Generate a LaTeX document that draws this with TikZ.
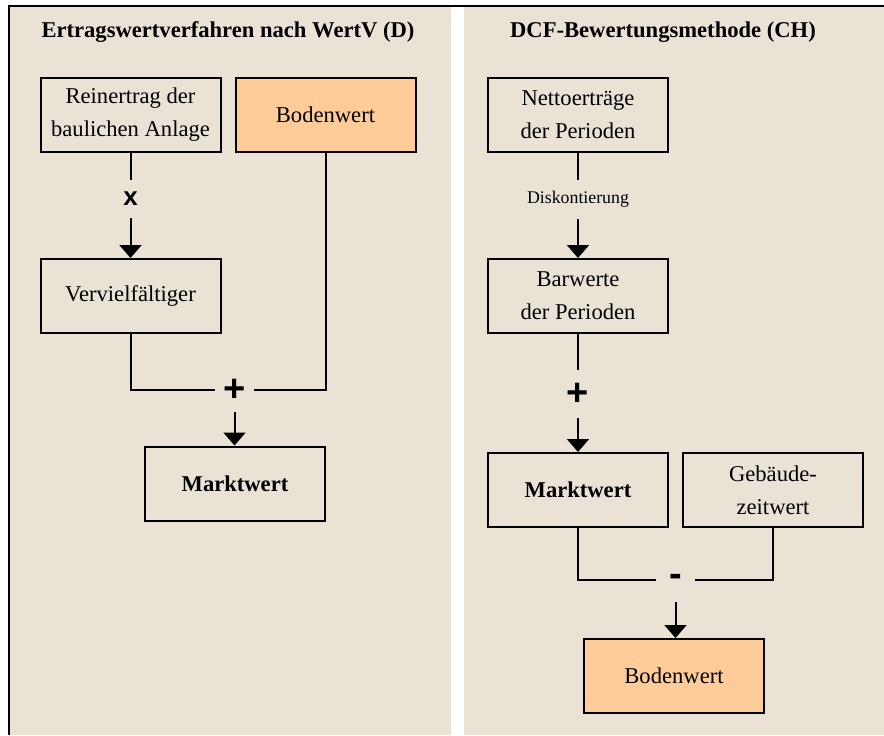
\documentclass[tikz,border=0pt]{standalone}
\usepackage{fontspec}
\setmainfont{Liberation Serif}
\setsansfont{Liberation Sans}
\usepackage{tikz}
\usetikzlibrary{positioning,arrows.meta}

\definecolor{panel}{HTML}{E9E2D5}
\definecolor{soil}{HTML}{FFCC99}

\begin{document}
\begin{tikzpicture}[x=0.5pt, y=-0.5pt,
        box/.style={draw, line width=1pt, rectangle, minimum height=37pt, minimum width=90pt, inner sep=0pt, align=center,
            font=\fontsize{11.3}{16.5}\selectfont},
        title/.style={font=\fontsize{11.3}{13}\selectfont\bfseries},
        op/.style={inner sep=0pt, minimum width=19.5pt, minimum height=22pt, font=\fontsize{19}{19}\selectfont\sffamily\bfseries},
        note/.style={inner sep=0pt, minimum height=19.5pt, font=\fontsize{8.9}{10}\selectfont},
        link/.style={line width=1pt},
        >={Triangle[width=11pt,length=6.5pt]}
    ]
        \useasboundingbox (0,0) rectangle (884,735);

        % Panels
        \fill[panel] (10,7) rectangle (451,735);
        \fill[panel] (464,7) rectangle (884,735);
        \draw[line width=1pt] (9,735) -- (9,6) -- (884,6);

        % Left: Ertragswertverfahren
        \node [title] (titleL) at (228,32) {Ertragswertverfahren nach WertV (D)};
        \node [box] (rein) at (130.5,115) {Reinertrag der\\baulichen Anlage};
        \node [box, fill=soil, right=6.5pt of rein] (bodenL) {Bodenwert};
        \node [box, below=52.5pt of rein] (verv) {Vervielfältiger};
        \node [op, minimum height=18.5pt, font=\fontsize{13}{13}\selectfont\sffamily\bfseries] (mal) at (130.5,199) {x};
        \node [op] (plusL) at (234.5,390) {\raisebox{-2pt}{+}};
        \node [box, font=\fontsize{11.3}{16.5}\selectfont\bfseries] (marktL) at (235,483.5) {Marktwert};

        % Right: DCF
        \node [title] (titleR) at (663,32) {DCF-Bewertungsmethode (CH)};
        \node [box] (netto) at (578,115) {Nettoerträge\\der Perioden};
        \node [box, below=52.5pt of netto] (bar) {Barwerte\\der Perioden};
        \node [box, below=59pt of bar, font=\fontsize{11.3}{16.5}\selectfont\bfseries] (marktR) {Marktwert};
        \node [box, right=6.5pt of marktR] (geb) {Gebäude-\\zeitwert};
        \node [box, fill=soil] (bodenR) at (674,676) {Bodenwert};
        \node [note] (disk) at (578,199.5) {Diskontierung};
        \node [op, minimum height=24pt] (plusR) at (578,394) {+};
        \node [op] (minus) at (675.5,580) {\raisebox{-1pt}{-}};

        % Connections left
        \draw [link] (rein) -- (mal);
        \draw [link, ->] (mal) -- (verv);
        \draw [link] (verv) |- (plusL);
        \draw [link] (bodenL) |- (plusL);
        \draw [link, ->] (plusL) -- (plusL |- marktL.north);

        % Connections right
        \draw [link] (netto) -- (disk);
        \draw [link, ->] (disk) -- (bar);
        \draw [link] (bar) -- (plusR);
        \draw [link, ->] (plusR) -- (marktR);
        \draw [link] (marktR) |- (minus);
        \draw [link] (geb) |- (minus);
        \draw [link, ->] (minus) -- (minus |- bodenR.north);
    \end{tikzpicture}
\end{document}
